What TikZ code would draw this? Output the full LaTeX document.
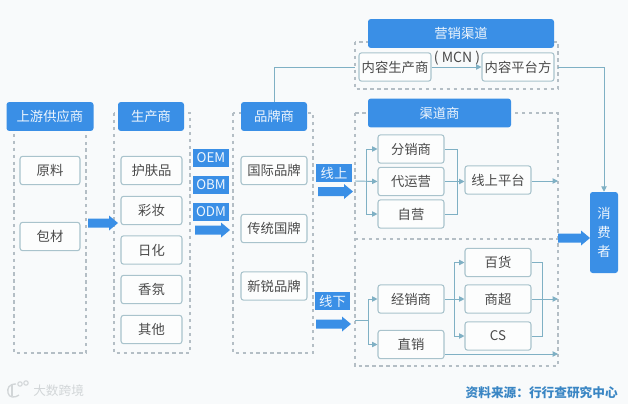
\documentclass[tikz,border=0pt]{standalone}
\usepackage{fontspec}
\setmainfont{Noto Sans CJK SC}
\usetikzlibrary{arrows.meta}
\definecolor{bluehd}{HTML}{3A8FE6}
\definecolor{boxline}{HTML}{A9C3CC}
\definecolor{dashc}{HTML}{B4BEC5}
\definecolor{linec}{HTML}{7FB0C4}
\definecolor{txt}{HTML}{4A4A4A}
\definecolor{bgc}{HTML}{F8FAFB}
\definecolor{src}{HTML}{3A86C4}
\definecolor{wm}{HTML}{D2D6D8}
\newcommand{\bigarrowat}[3]{\fill[bluehd] (#1,#3-4.5) -- (#2-9,#3-4.5) -- (#2-9,#3-7.5) -- (#2,#3) -- (#2-9,#3+7.5) -- (#2-9,#3+4.5) -- (#1,#3+4.5) -- cycle;}
\tikzset{
 x=0.75pt,y=-0.75pt,
 hd/.style={fill=bluehd,rounded corners=2pt,text=white!92!bluehd,font=\fontsize{10}{10}\selectfont,inner sep=0pt,minimum height=21.6pt},
 itembox/.style={draw=boxline,line width=0.8pt,fill=white!60!bgc,rounded corners=2pt,text=txt,font=\fontsize{10}{10}\selectfont,inner sep=0pt,minimum height=21.3pt},
 tag/.style={fill=bluehd,text=white!92!bluehd,font=\fontsize{10}{10}\selectfont,inner sep=0pt,minimum height=13.5pt},
 zone/.style={draw=dashc,line width=0.8pt,dash pattern=on 2.6pt off 2.6pt},
 lnk/.style={draw=linec,line width=0.7pt},
 arr/.style={lnk,-{Triangle[length=4pt,width=4pt]}},
}
\begin{document}
\begin{tikzpicture}
\useasboundingbox (0,0) rectangle (628,404);
\fill[bgc] (0,0) rectangle (628,404);
% zones
\draw[zone] (14,113) rectangle (86,353);
\draw[zone] (114,113) rectangle (190,353);
\draw[zone] (233,113) rectangle (313,353);
\draw[zone] (355,42) rectangle (558,89);
\draw[zone] (355,113) rectangle (558,366);
\draw[zone] (355,239) -- (558,239);
% anchors on the zones
\coordinate (mktL) at (355,67);
\coordinate (mktR) at (558,67);
\coordinate (onL) at (355,181);
\coordinate (onR) at (558,181);
\coordinate (offL) at (355,320);
\coordinate (offRa) at (558,299);
\coordinate (offRb) at (558,354);
% headers
\node[hd,minimum width=65.25pt] (h1) at (50,116.5) {上游供应商};
\node[hd,minimum width=49.5pt] (h2) at (151,116.5) {生产商};
\node[hd,minimum width=49.5pt] (h3) at (274,116.5) {品牌商};
\node[hd,minimum width=139.5pt] (h4) at (461,33.5) {营销渠道};
\node[hd,minimum width=107.25pt] (h5) at (439.5,113) {渠道商};
% column 1
\node[itembox,minimum width=45pt] (a1) at (50,170.5) {原料};
\node[itembox,minimum width=45pt] (a2) at (50,236.5) {包材};
% column 2
\node[itembox,minimum width=45.75pt] (b1) at (151.5,170.5) {护肤品};
\node[itembox,minimum width=45.75pt] (b2) at (151.5,210.5) {彩妆};
\node[itembox,minimum width=45.75pt] (b3) at (151.5,250) {日化};
\node[itembox,minimum width=45.75pt] (b4) at (151.5,289.5) {香氛};
\node[itembox,minimum width=45.75pt] (b5) at (151.5,329.5) {其他};
% column 3
\node[itembox,minimum width=49.5pt] (c1) at (274,170.5) {国际品牌};
\node[itembox,minimum width=49.5pt] (c2) at (274,228.5) {传统国牌};
\node[itembox,minimum width=49.5pt] (c3) at (274,286) {新锐品牌};
% tags
\node[tag,minimum width=27pt] (t1) at (211,158) {OEM};
\node[tag,minimum width=27pt] (t2) at (211,185) {OBM};
\node[tag,minimum width=27pt] (t3) at (211,212) {ODM};
\node[tag,minimum width=27pt] (t4) at (334,173) {线上};
\node[tag,minimum width=26.25pt] (t5) at (332.5,301) {线下};
% big arrows
\bigarrowat{88}{118}{223}
\bigarrowat{195}{230}{230}
\bigarrowat{318}{353}{191.5}
\bigarrowat{316}{351}{324}
\bigarrowat{558}{590}{238}
% marketing
\node[itembox,minimum width=54pt] (m1) at (395,67) {内容生产商};
\node[itembox,minimum width=54pt] (m2) at (518,67) {内容平台方};
\node[text=txt,font=\fontsize{10.5}{10}\selectfont,inner sep=0pt] (mcn) at (457,58) {( MCN )};
% online
\node[itembox,minimum width=49.5pt] (d1) at (411,149) {分销商};
\node[itembox,minimum width=49.5pt] (d2) at (411,181.5) {代运营};
\node[itembox,minimum width=49.5pt] (d3) at (411,214) {自营};
\node[itembox,minimum width=49.5pt] (e1) at (498,180) {线上平台};
% offline
\node[itembox,minimum width=49.5pt] (f1) at (411,299) {经销商};
\node[itembox,minimum width=49.5pt] (f2) at (411,344.5) {直销};
\node[itembox,minimum width=49.5pt] (g1) at (498,262.5) {百货};
\node[itembox,minimum width=49.5pt] (g2) at (498,299) {商超};
\node[itembox,minimum width=49.5pt] (g3) at (498,336) {CS};
% consumer
\node[fill=bluehd,rounded corners=2pt,text=white!92!bluehd,font=\fontsize{10}{14}\selectfont,inner sep=0pt,minimum width=21pt,minimum height=60.75pt,align=center] (z) at (604,232.5) {消\\费\\者};
% connectors
\draw[lnk] (h3.north) |- (mktL);
\draw[arr] (m1.east) -- (m2.west);
\draw[arr] (mktR) -| (z.north);
\draw[arr] (onL) -- (d2.west);
\draw[arr] (366,181) |- (d1.west);
\draw[arr] (366,181) |- (d3.west);
\draw[lnk] (d1.east) -| (457,181);
\draw[lnk] (d3.east) -| (457,181);
\draw[arr] (d2.east) -- (e1.west |- d2.east);
\draw[arr] (e1.east |- onR) -- (onR);
\draw[lnk] (offL) -- (368,320);
\draw[arr] (368,320) |- (f1.west);
\draw[arr] (368,320) |- (f2.west);
\draw[arr] (f1.east) -- (g2.west);
\draw[arr] (454,299) |- (g1.west);
\draw[arr] (454,299) |- (g3.west);
\draw[lnk] (g1.east) -| (542,299);
\draw[lnk] (g3.east) -| (542,299);
\draw[arr] (g2.east) -- (offRa);
\draw[arr] (f2.east |- offRb) -- (offRb);
% source
\node[anchor=east,text=src,font=\fontsize{9.5}{10}\selectfont\bfseries,inner sep=0pt] (s) at (618,393) {资料来源：行行查研究中心};
% watermark
\draw[wm,line width=1pt] (16,384) .. controls (9,384) and (7,388) .. (8,393) .. controls (9,398) and (15,398) .. (19,395);
\draw[wm,line width=0.8pt] (12,385) -- (12,396);
\draw[wm,line width=0.8pt] (20,384) circle[radius=2.2];
\draw[wm,line width=0.8pt] (26,383) circle[radius=2.2];
\node[anchor=west,text=wm,font=\fontsize{9.5}{10}\selectfont,inner sep=0pt] (w) at (33,391) {大数跨境};
\end{tikzpicture}
\end{document}
